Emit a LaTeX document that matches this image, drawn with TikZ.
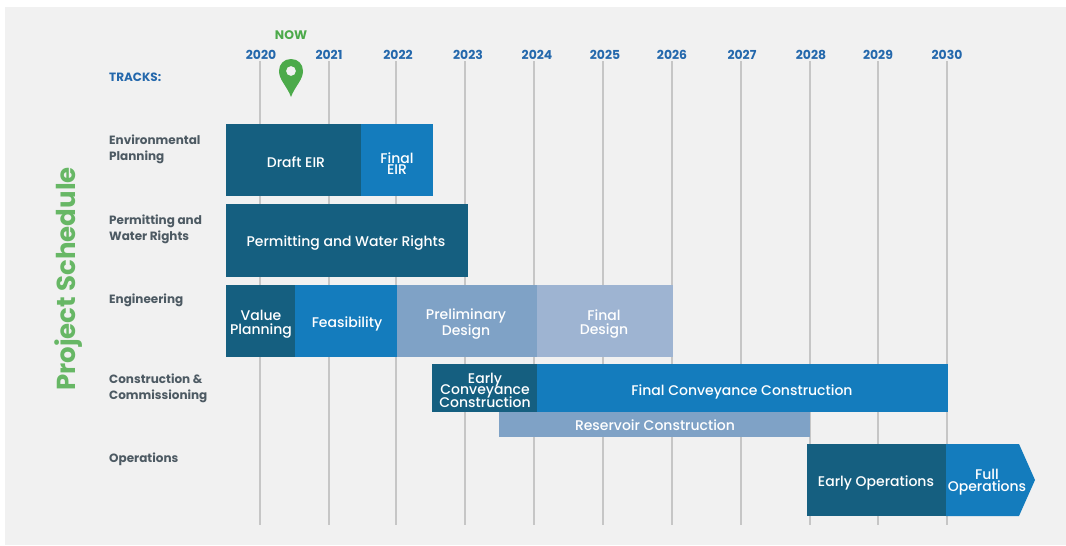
\documentclass[tikz,border=0pt]{standalone}
\usepackage{fontspec}
\setmainfont{Poppins}
\newfontfamily\medfont{Poppins Medium}
\definecolor{bgc}{HTML}{F1F1F1}
\definecolor{dk}{HTML}{155F80}
\definecolor{md}{HTML}{147CBD}
\definecolor{pre}{HTML}{7FA2C6}
\definecolor{fin}{HTML}{9EB4D2}
\definecolor{gl}{HTML}{C6C6C6}
\definecolor{yr}{HTML}{2468AC}
\definecolor{gr}{HTML}{4CAA4A}
\definecolor{trk}{HTML}{4D5A63}
\tikzset{
 barbox/.style={inner sep=0pt,outer sep=0pt,draw=none},
 barlab/.style={text=white,align=center,font=\medfont\fontsize{14}{14}\selectfont,inner sep=0pt},
 yearlab/.style={text=yr,font=\bfseries\fontsize{12.4}{14}\selectfont,inner sep=0pt},
 tracklab/.style={text=trk,anchor=west,align=left,font=\fontsize{12}{16}\selectfont\bfseries,inner sep=0pt},
 gridl/.style={draw=gl,line width=1.1pt},
}
\newcommand{\ganttbar}[6]{\node[barbox,fill=#6,minimum width={(#4-#2)*1pt},minimum height={(#5-#3)*1pt}] (#1) at ({(#2+#4)/2},{(#3+#5)/2}) {};}
\newcommand{\yearline}[3]{%
 \node[yearlab] (y#1) at (#3,54.5) {#1};
 \coordinate (t#1) at (#2,61);
 \coordinate (b#1) at (#2,525);
 \draw[gridl] (t#1) -- (b#1);}
\begin{document}
\begin{tikzpicture}[x=1pt,y=-1pt]
\useasboundingbox (0,0) rectangle (1066,546);
\fill[bgc] (5,7) rectangle (1066,545);
\yearline{2020}{260}{261}
\yearline{2021}{329}{329}
\yearline{2022}{396}{398}
\yearline{2023}{465}{468}
\yearline{2024}{534}{537}
\yearline{2025}{603}{605}
\yearline{2026}{672}{672}
\yearline{2027}{741}{742}
\yearline{2028}{810}{811}
\yearline{2029}{878}{878}
\yearline{2030}{947}{947}
\node[text=gr,font=\bfseries\fontsize{12.4}{14}\selectfont,inner sep=0pt] (now) at (291,35.5) {NOW};
\fill[gr,even odd rule] (291,97) .. controls (287,86) and (279,80) .. (279,71) .. controls (279,64) and (284,59) .. (291,59) .. controls (298,59) and (303,64) .. (303,71) .. controls (303,80) and (295,86) .. (291,97) -- cycle (291,71) circle (5);
\node[text=yr,font=\bfseries\fontsize{12}{14}\selectfont,anchor=west,inner sep=0pt] (tracks) at (109,77) {TRACKS:};
\node[text=gr!85!white,font=\fontsize{26}{30}\selectfont\bfseries,rotate=90,inner sep=0pt] (title) at (69,279) {Project Schedule};
\node[tracklab] (tr1) at (109,149) {Environmental\\Planning};
\node[tracklab] (tr2) at (109,229) {Permitting and\\Water Rights};
\node[tracklab] (tr3) at (109,300) {Engineering};
\node[tracklab] (tr4) at (109,388) {Construction \&\\Commissioning};
\node[tracklab] (tr5) at (109,459) {Operations};
\ganttbar{draft}{226}{124}{361}{196}{dk}
\ganttbar{final}{361}{124}{433}{196}{md}
\ganttbar{perm}{226}{204}{468}{277}{dk}
\ganttbar{value}{226}{285}{295}{357}{dk}
\ganttbar{feas}{295}{285}{397}{357}{md}
\ganttbar{prel}{397}{285}{537}{357}{pre}
\ganttbar{fdes}{537}{285}{673}{357}{fin}
\ganttbar{resv}{499}{411}{810}{437}{pre}
\ganttbar{econv}{432}{364}{537}{412}{dk}
\ganttbar{fconv}{537}{364}{948}{412}{md}
\ganttbar{eops}{807}{444}{946}{516}{dk}
\fill[md] (946,444) -- (1019,444) -- (1035,480) -- (1019,516) -- (946,516) -- cycle;
\node[barlab] (l1) at (296,162) {Draft EIR};
\node[barlab] (l2) at (397,163.5) {Final\\[-2.7pt]EIR};
\node[barlab] (l3) at (346,243.5) {Permitting and Water Rights};
\node[barlab] (l4) at (261,324.5) {Value\\Planning};
\node[barlab] (l5) at (347,323.5) {Feasibility};
\node[barlab] (l6) at (466,324) {Preliminary\\Design};
\node[barlab] (l7) at (604,324) {Final\\Design};
\node[barlab] (l8) at (485,390.5) {Early\\[-2.7pt]Conveyance\\[-2.7pt]Construction};
\node[barlab] (l9) at (742,392) {Final Conveyance Construction};
\node[barlab] (l10) at (655,425) {Reservoir Construction};
\node[barlab] (l11) at (876,482.5) {Early Operations};
\node[barlab] (l12) at (987,482) {Full\\[-2.7pt]Operations};
\end{tikzpicture}
\end{document}
